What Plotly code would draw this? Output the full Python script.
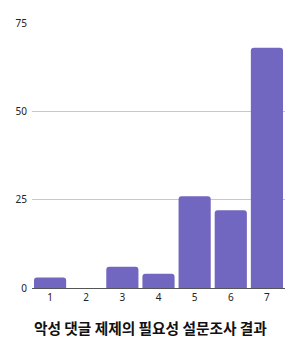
import plotly.graph_objects as go

categories = ["1", "2", "3", "4", "5", "6", "7"]
values = [3, 0, 6, 4, 26, 22, 68]
y_ticks = [0, 25, 50, 75]
title = "악성 댓글 제제의 필요성 설문조사 결과"

fig = go.Figure(go.Bar(
    x=categories, y=values,
    marker=dict(color="#7267c0", line=dict(width=0), cornerradius=3),
    width=0.89,
))
fig.update_layout(
    width=302, height=346,
    margin=dict(l=32, r=17, t=23, b=58),
    plot_bgcolor="white", paper_bgcolor="white",
    showlegend=False,
    font=dict(family="Noto Sans, Noto Sans CJK KR", size=10, color="#222"),
    xaxis=dict(type="category", showgrid=False, showline=True, linecolor="#555", linewidth=1,
               ticks="", tickfont=dict(size=10, color="#222")),
    yaxis=dict(range=[0, 75], tickvals=y_ticks, showgrid=True, gridcolor="#c8c8c8",
               zeroline=False, showline=False, ticks="", ticklabelstandoff=4,
               tickfont=dict(size=10, color="#222")),
    annotations=[dict(text="<b>" + title + "</b>", xref="paper", yref="paper",
                      x=0.47, y=-0.15, xanchor="center", yanchor="middle", showarrow=False,
                      font=dict(family="Noto Sans CJK KR", size=14.7, color="#111"))],
)
fig.write_html("out.html")
